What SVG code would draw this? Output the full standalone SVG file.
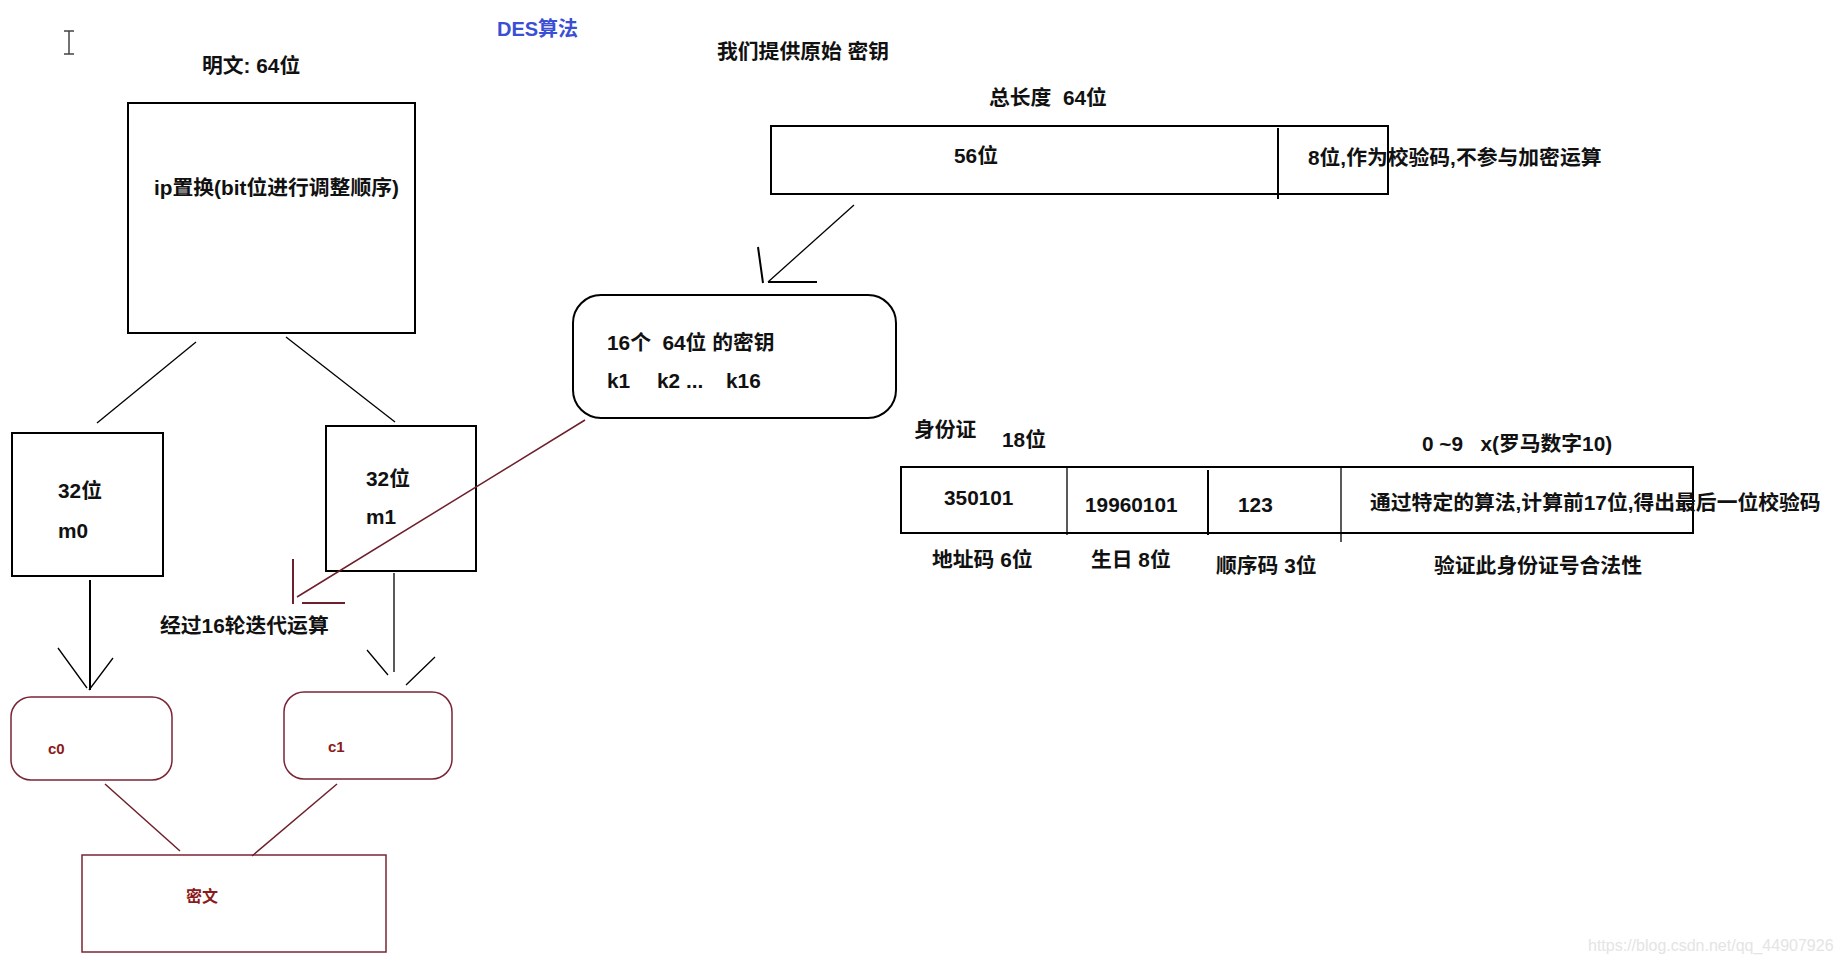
<svg xmlns="http://www.w3.org/2000/svg" width="1840" height="964" viewBox="0 0 1840 964">
<style>
.t{font-family:"Liberation Sans","Noto Sans CJK SC",sans-serif;font-weight:bold;font-size:20.8px;fill:#111;white-space:pre}
.r{font-family:"Liberation Sans","Noto Sans CJK SC",sans-serif;font-weight:bold;font-size:15px;fill:#8b1a1a}
.box{fill:none;stroke:#000;stroke-width:2}
.rbox{fill:none;stroke:#7a2535;stroke-width:1.5}
.ln{stroke:#000;stroke-width:1.3;fill:none}
.rl{stroke:#6e1f2c;stroke-width:1.5;fill:none}
</style>
<rect width="1840" height="964" fill="#fff"/>
<!-- cursor -->
<path d="M64 31H74M69 31V54M64 54H74" stroke="#444" stroke-width="1.5" fill="none"/>
<text x="497" y="36" class="t" style="fill:#3b4fd4;font-size:20px">DES算法</text>

<g id="plaintext">
<text x="202" y="73" class="t">明文: 64位</text>
<rect x="128" y="103" width="287" height="230" class="box"/>
<text x="154" y="195" class="t">ip置换(bit位进行调整顺序)</text>
</g>

<g id="m0">
<rect x="12" y="433" width="151" height="143" class="box"/>
<text x="58" y="498" class="t">32位</text>
<text x="58" y="538" class="t">m0</text>
</g>
<g id="m1">
<rect x="326" y="426" width="150" height="145" class="box"/>
<text x="366" y="486" class="t">32位</text>
<text x="366" y="524" class="t">m1</text>
</g>
<g id="iter-label">
<text x="160" y="633" class="t">经过16轮迭代运算</text>
</g>
<g id="c0">
<rect x="11" y="697" width="161" height="83" rx="20" class="rbox"/>
<text x="48" y="754" class="r">c0</text>
</g>
<g id="c1">
<rect x="284" y="692" width="168" height="87" rx="20" class="rbox"/>
<text x="328" y="752" class="r">c1</text>
</g>
<g id="ciphertext">
<rect x="82" y="855" width="304" height="97" class="rbox"/>
<text x="186" y="902" class="r" style="font-size:16px">密文</text>
</g>

<g id="key-title">
<text x="717" y="59" class="t">我们提供原始 密钥</text>
<text x="989" y="105" class="t" xml:space="preserve">总长度  64位</text>
</g>
<g id="key">
<rect x="771" y="126" width="617" height="68" class="box"/>
<line x1="1278" y1="128" x2="1278" y2="199" class="box"/>
<text x="954" y="163" class="t">56位</text>
<text x="1308" y="165" class="t">8位,作为校验码,不参与加密运算</text>
</g>
<g id="subkeys">
<rect x="573" y="295" width="323" height="123" rx="28" class="box"/>
<text x="607" y="350" class="t" xml:space="preserve">16个  64位 的密钥</text>
<text y="388" class="t"><tspan x="607">k1</tspan><tspan x="657">k2 ...</tspan><tspan x="726">k16</tspan></text>
</g>

<g id="idcard">
<text x="914" y="437" class="t">身份证</text>
<text x="1002" y="447" class="t">18位</text>
<text x="1422" y="451" class="t" xml:space="preserve">0 ~9   x(罗马数字10)</text>
<rect x="901" y="467" width="792" height="66" class="box"/>
<line x1="1067" y1="467" x2="1067" y2="535" class="ln"/>
<line x1="1208" y1="470" x2="1208" y2="535" class="box"/>
<line x1="1341" y1="467" x2="1341" y2="542" class="ln"/>
<text x="944" y="505" class="t">350101</text>
<text x="1085" y="512" class="t">19960101</text>
<text x="1238" y="512" class="t">123</text>
<text x="1370" y="510" class="t">通过特定的算法,计算前17位,得出最后一位校验码</text>
<text x="932" y="567" class="t">地址码 6位</text>
<text x="1091" y="567" class="t">生日 8位</text>
<text x="1216" y="573" class="t">顺序码 3位</text>
<text x="1434" y="573" class="t">验证此身份证号合法性</text>
</g>

<g id="connectors">
<line x1="196" y1="342" x2="97" y2="423" class="ln"/>
<line x1="286" y1="337" x2="395" y2="422" class="ln"/>
<line x1="90" y1="580" x2="90" y2="690" class="box"/>
<path d="M58 648L87 688M113 658L89 690" class="ln"/>
<line x1="394" y1="573" x2="394" y2="672" class="ln"/>
<path d="M367 650L388 675M435 657L406 685" class="ln"/>
<line x1="105" y1="784" x2="180" y2="851" class="rl"/>
<line x1="337" y1="784" x2="252" y2="856" class="rl"/>
<line x1="854" y1="205" x2="768" y2="282" class="ln"/>
<path d="M758 247L763 283M768 282H817" class="box"/>
<line x1="585" y1="420" x2="297" y2="597" class="rl"/>
<path d="M293 559V604M302 603H345" class="rl" style="stroke-width:2"/>
</g>
<text x="1588" y="951" style="font-family:'Liberation Sans',sans-serif;font-size:16px;fill:#e4e4e4">https://blog.csdn.net/qq_44907926</text>
</svg>
